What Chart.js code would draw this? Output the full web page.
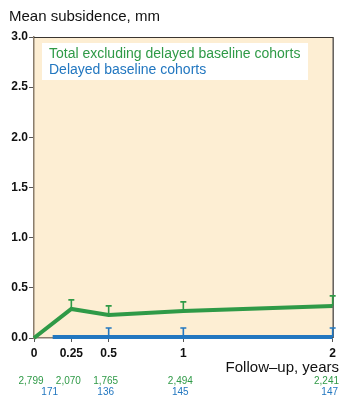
<!DOCTYPE html>
<html>
<head>
<meta charset="utf-8">
<script src="https://cdn.jsdelivr.net/npm/chart.js@4"></script>
<style>
  html, body { margin: 0; padding: 0; background: #fff; }
  #wrap { width: 340px; height: 397px; position: relative; }
</style>
</head>
<body>
<div id="wrap"><canvas id="subsidenceChart"></canvas></div>
<script>
// --- Data ---
const X_TICKS = [0, 0.25, 0.5, 1, 2];
const Y_TICKS = [0, 0.5, 1, 1.5, 2, 2.5, 3];

const TOTAL_LABEL = 'Total excluding delayed baseline cohorts';
const TOTAL_X = [0, 0.25, 0.5, 1, 2];
const TOTAL_MEAN = [0, 0.29, 0.23, 0.27, 0.32];
const TOTAL_UPPER = [null, 0.38, 0.32, 0.36, 0.42];
const TOTAL_N = ['2,799', '2,070', '1,765', '2,494', '2,241'];

const DELAYED_LABEL = 'Delayed baseline cohorts';
const DELAYED_X = [0.125, 0.5, 1, 2];
const DELAYED_MEAN = [0.01, 0.01, 0.01, 0.01];
const DELAYED_UPPER = [null, 0.1, 0.1, 0.1];
const DELAYED_N = ['171', '136', '145', '147'];

const GREEN = '#2f9a47';
const BLUE = '#2277c0';
const FONT = "'Liberation Sans', Arial, sans-serif";

// --- Helpers ---
function toPoints(xs, ys) {
    return xs.map((x, i) => ({ x, y: ys[i] }));
}

// draws the plot background, frame, error bars, legend and annotations
const decorPlugin = {
    id: 'decor',
    beforeDraw(chart) {
        const { ctx, chartArea: a } = chart;
        ctx.save();
        ctx.fillStyle = '#fdeed3';
        ctx.fillRect(a.left, a.top, a.right - a.left, a.bottom - a.top);
        ctx.restore();
    },
    afterDatasetsDraw(chart) {
        const { ctx, chartArea: a, scales } = chart;
        const xs = scales.x, ys = scales.y;
        ctx.save();

        // frame on top and right
        ctx.strokeStyle = '#3a3530';
        ctx.lineWidth = 1.2;
        ctx.beginPath();
        ctx.moveTo(a.left, a.top + 0.5);
        ctx.lineTo(a.right + 0.5, a.top + 0.5);
        ctx.lineTo(a.right + 0.5, a.bottom);
        ctx.stroke();

        // upper error bars
        const bars = [
            { xs: TOTAL_X, mean: TOTAL_MEAN, upper: TOTAL_UPPER, color: GREEN },
            { xs: DELAYED_X, mean: DELAYED_MEAN, upper: DELAYED_UPPER, color: BLUE }
        ];
        bars.forEach(s => {
            ctx.strokeStyle = s.color;
            ctx.lineWidth = 1.6;
            s.xs.forEach((x, i) => {
                if (s.upper[i] === null) return;
                const px = xs.getPixelForValue(x);
                const y0 = ys.getPixelForValue(s.mean[i]);
                const y1 = ys.getPixelForValue(s.upper[i]);
                ctx.beginPath();
                ctx.moveTo(px, y0);
                ctx.lineTo(px, y1);
                ctx.moveTo(px - 3, y1);
                ctx.lineTo(px + 3, y1);
                ctx.stroke();
            });
        });

        // legend box
        ctx.fillStyle = '#ffffff';
        ctx.fillRect(a.left + 8, a.top + 6, 266, 37);
        ctx.font = '14px ' + FONT;
        ctx.textAlign = 'left';
        ctx.textBaseline = 'middle';
        ctx.fillStyle = GREEN;
        ctx.fillText(TOTAL_LABEL, a.left + 15, a.top + 17);
        ctx.fillStyle = BLUE;
        ctx.fillText(DELAYED_LABEL, a.left + 15, a.top + 33);

        // axis titles
        ctx.fillStyle = '#111';
        ctx.font = '15px ' + FONT;
        ctx.fillText('Mean subsidence, mm', 9, 17);
        ctx.textAlign = 'right';
        ctx.font = '15px ' + FONT;
        ctx.fillText('Follow\u2013up, years', 339, 368);

        // number at risk rows
        ctx.font = '10px ' + FONT;
        ctx.textAlign = 'center';
        const rows = [
            { xs: TOTAL_X, n: TOTAL_N, color: GREEN, y: 381 },
            { xs: DELAYED_X, n: DELAYED_N, color: BLUE, y: 392 }
        ];
        rows.forEach(r => {
            ctx.fillStyle = r.color;
            r.xs.forEach((x, i) => {
                const w = ctx.measureText(r.n[i]).width;
                let cx = xs.getPixelForValue(x) - 3;
                cx = Math.min(cx, 339 - w / 2);
                ctx.fillText(r.n[i], cx, r.y);
            });
        });
        ctx.restore();
    }
};

// --- Chart ---
new Chart(document.getElementById('subsidenceChart'), {
    type: 'line',
    data: {
        datasets: [
            {
                label: TOTAL_LABEL,
                data: toPoints(TOTAL_X, TOTAL_MEAN),
                borderColor: GREEN,
                borderWidth: 4,
                pointRadius: 0,
                tension: 0,
                clip: false
            },
            {
                label: DELAYED_LABEL,
                data: toPoints(DELAYED_X, DELAYED_MEAN),
                borderColor: BLUE,
                borderWidth: 4,
                pointRadius: 0,
                tension: 0,
                clip: false
            }
        ]
    },
    options: {
        responsive: true,
        maintainAspectRatio: false,
        animation: false,
        layout: { padding: { top: 37, right: 6, left: 0, bottom: 0 } },
        plugins: { legend: { display: false }, tooltip: { enabled: false } },
        scales: {
            x: {
                type: 'linear',
                min: 0,
                max: 2,
                afterBuildTicks: scale => { scale.ticks = X_TICKS.map(v => ({ value: v })); },
                afterFit: scale => { scale.height = 59; },
                grid: { drawOnChartArea: false, drawTicks: true, tickLength: 4, color: '#555', lineWidth: 1 },
                border: { display: true, color: '#8a7d6c', width: 1.5 },
                ticks: {
                    autoSkip: false,
                    maxRotation: 0,
                    padding: 4,
                    color: '#111',
                    font: { family: FONT, size: 12, weight: 'bold' },
                    callback: v => String(v)
                }
            },
            y: {
                min: 0,
                max: 3,
                afterBuildTicks: scale => { scale.ticks = Y_TICKS.map(v => ({ value: v })); },
                afterFit: scale => { scale.width = 34; },
                grid: { drawOnChartArea: false, drawTicks: true, tickLength: 5, color: '#555', lineWidth: 1 },
                border: { display: true, color: '#8a7d6c', width: 1.5 },
                ticks: {
                    padding: 1,
                    color: '#111',
                    font: { family: FONT, size: 12, weight: 'bold' },
                    callback: v => Number(v).toFixed(1)
                }
            }
        }
    },
    plugins: [decorPlugin]
});
</script>
</body>
</html>
